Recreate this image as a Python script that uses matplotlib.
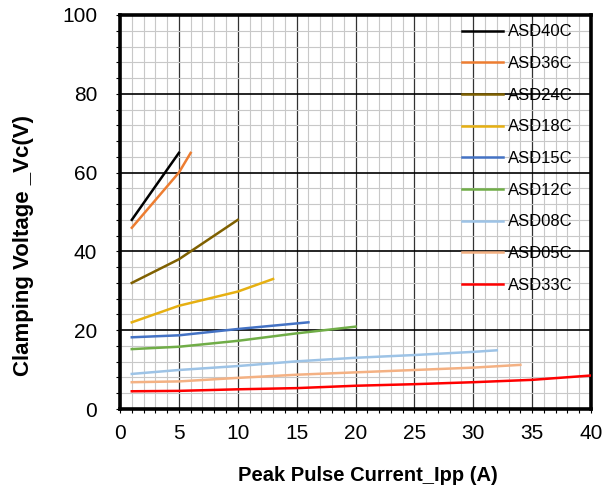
import matplotlib.pyplot as plt
from matplotlib.ticker import MultipleLocator

plt.rcParams['font.family'] = ['Liberation Sans', 'DejaVu Sans']

# curves (Ipp in A, Vc in V)
names = ['ASD40C', 'ASD36C', 'ASD24C', 'ASD18C', 'ASD15C',
         'ASD12C', 'ASD08C', 'ASD05C', 'ASD33C']
colors = ['#000000', '#ED7D31', '#7F6000', '#E6B012', '#4472C4',
          '#70AD47', '#9DC3E6', '#F4B183', '#FF0000']

ipp_40 = [1, 5]
vc_40 = [48, 65]
ipp_36 = [1, 3, 5, 6]
vc_36 = [46, 53, 60, 65]
ipp_24 = [1, 5, 10]
vc_24 = [32, 38, 48]
ipp_18 = [1, 5, 10, 13]
vc_18 = [22, 26.2, 29.8, 33]
ipp_15 = [1, 5, 10, 16]
vc_15 = [18.2, 18.7, 20.3, 22]
ipp_12 = [1, 5, 10, 15, 20]
vc_12 = [15.2, 15.8, 17.3, 19.2, 20.9]
ipp_08 = [1, 5, 10, 15, 20, 25, 30, 32]
vc_08 = [8.9, 9.9, 10.9, 12.1, 13.0, 13.7, 14.5, 14.9]
ipp_05 = [1, 5, 10, 15, 20, 25, 30, 34]
vc_05 = [6.8, 7.0, 7.9, 8.7, 9.3, 9.9, 10.5, 11.2]
ipp_33 = [1, 5, 10, 15, 20, 25, 30, 35, 40]
vc_33 = [4.5, 4.6, 5.0, 5.3, 5.9, 6.3, 6.8, 7.4, 8.5]

series = [(ipp_40, vc_40), (ipp_36, vc_36), (ipp_24, vc_24), (ipp_18, vc_18),
          (ipp_15, vc_15), (ipp_12, vc_12), (ipp_08, vc_08), (ipp_05, vc_05),
          (ipp_33, vc_33)]

fig = plt.figure(figsize=(6.04, 4.96), dpi=100)
ax = fig.add_axes([0.1987, 0.1754, 0.7798, 0.7944])

for (x, y), name, c in zip(series, names, colors):
    ax.plot(x, y, color=c, lw=1.8, label=name, zorder=3)

ax.set_xlim(0, 40)
ax.set_ylim(0, 100)
ax.xaxis.set_major_locator(MultipleLocator(5))
ax.xaxis.set_minor_locator(MultipleLocator(1))
ax.yaxis.set_major_locator(MultipleLocator(20))
ax.yaxis.set_minor_locator(MultipleLocator(4))

# grid formatting
ax.grid(which='minor', color='#c8c8c8', lw=0.8)
ax.grid(which='major', axis='x', color='#333333', lw=0.9)
ax.grid(which='major', axis='y', color='black', lw=1.2)
ax.set_axisbelow(True)

for s in ax.spines.values():
    s.set_linewidth(2.6)
ax.tick_params(which='both', direction='out', length=3, width=0.8, labelsize=15)
ax.tick_params(axis='x', pad=8)
ax.tick_params(axis='y', pad=13.5)

ax.set_xlabel('Peak Pulse Current_Ipp (A)', fontsize=14.5, fontweight='bold')
ax.xaxis.set_label_coords(0.527, -0.145)
ax.set_ylabel('Clamping Voltage _Vc(V)', fontsize=16, fontweight='bold')
ax.yaxis.set_label_coords(-0.183, 0.415)

ax.legend(loc='upper left', bbox_to_anchor=(0.726, 0.976), frameon=False,
          fontsize=12, handlelength=2.45, handletextpad=0.3, labelspacing=1.0,
          borderaxespad=0, borderpad=0)

plt.savefig('out.png', dpi=100)
